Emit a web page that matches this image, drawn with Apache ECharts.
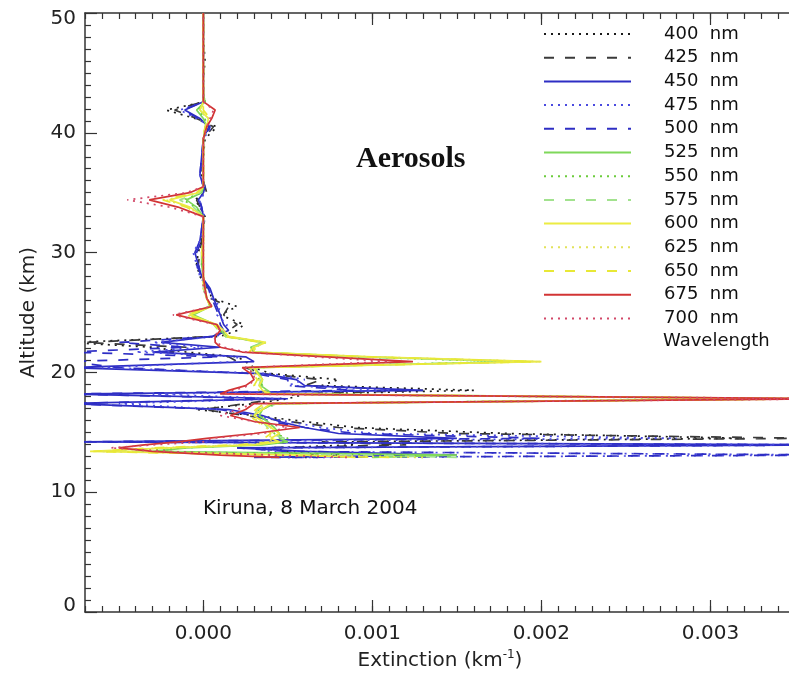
<!DOCTYPE html>
<html>
<head>
<meta charset="utf-8">
<script src="https://cdn.jsdelivr.net/npm/echarts@6/dist/echarts.min.js"></script>
<style>html,body{margin:0;padding:0;background:#fff;}#c{width:789px;height:679px;}</style>
</head>
<body>
<div id="c"></div>
<script>
// Altitude levels (km), shared by every profile
const altitudes = [12.9, 13.1, 13.4, 13.7, 13.95, 14.2, 14.5, 14.9, 15.4, 15.9, 16.4, 16.9, 17.4, 17.8, 18.2, 18.5, 18.9, 19.4, 19.9, 20.4, 20.9, 21.3, 21.7, 22.1, 22.5, 23.0, 23.5, 24.0, 24.8, 25.5, 26.2, 27.0, 28.0, 29.0, 30.0, 31.0, 32.0, 33.0, 33.8, 34.4, 35.0, 35.5, 36.5, 38.0, 39.5, 40.5, 41.2, 41.9, 42.6, 43.2, 44.5, 46.0, 48.0, 50.0];

// Extinction profiles, in units of 10^-3 km^-1
const ext400 = [0.6, 0.8, 0.5, 0.4, 0.9, 0.8, 3.2, 1.8, 0.9, 0.6, 0.3, -0.04, 0.3, 0.5, 0.6, 1.6, 0.7, 0.8, 0.4, 0.3, 0.25, 0.2, -0.1, -0.3, -0.8, 0.1, 0.2, 0.24, 0.1, 0.2, 0.05, 0.03, -0.02, -0.04, -0.03, -0.01, 0.0, 0.01, -0.02, -0.05, 0.01, 0.01, -0.01, 0.0, 0.01, 0.08, -0.05, -0.22, 0.01, 0.0, 0.0, 0.01, 0.0, 0.0];
const ext425 = [0.5, 0.7, 0.45, 0.35, 1.2, 0.7, 3.6, 1.5, 0.8, 0.5, 0.25, 0.0, 0.25, 0.45, 0.55, 1.3, 0.6, 0.7, 0.35, 0.25, 0.2, 0.15, -0.2, -0.1, -0.7, 0.05, 0.15, 0.2, 0.12, 0.15, 0.04, 0.02, -0.01, -0.03, -0.02, -0.01, 0.0, 0.0, -0.02, -0.04, 0.02, 0.01, -0.01, 0.0, 0.0, 0.06, -0.04, -0.17, 0.0, 0.0, 0.0, 0.0, 0.0, 0.0];
const ext450 = [0.3, 1.5, 0.6, 0.2, 3.8, -0.8, 1.5, 0.8, 0.6, 0.45, 0.35, 0.15, -0.8, 0.5, -0.8, 1.3, 0.6, 0.55, 0.35, -0.8, 0.3, 0.25, -0.3, 0.1, -0.25, 0.05, 0.15, 0.12, 0.1, 0.08, 0.06, 0.04, -0.01, -0.03, -0.05, -0.02, -0.01, 0.0, -0.01, -0.03, 0.0, 0.0, -0.02, -0.01, 0.0, 0.03, -0.02, -0.11, 0.0, 0.0, 0.0, 0.0, 0.0, 0.0];
const ext475 = [0.5, 3.8, 0.4, 0.3, 3.8, -0.6, 2.8, 1.0, 0.7, 0.5, 0.3, 0.1, -0.5, 0.45, -0.3, 1.1, 0.5, 0.6, 0.4, -0.6, 0.2, 0.2, -0.4, 0.0, -0.3, 0.08, 0.13, 0.14, 0.08, 0.1, 0.05, 0.03, -0.02, -0.04, -0.06, -0.02, 0.0, 0.01, -0.02, -0.02, 0.01, 0.0, -0.02, 0.0, 0.0, 0.05, -0.04, -0.14, 0.01, 0.0, 0.0, 0.0, 0.0, 0.0];
const ext500 = [0.4, 3.8, 0.5, 0.2, 3.8, -0.8, 2.0, 0.9, 0.6, 0.4, 0.3, 0.1, -0.8, 0.4, -0.8, 0.9, 0.5, 0.5, 0.3, -0.5, -0.8, 0.1, -0.8, -0.1, -0.5, 0.06, 0.12, 0.1, 0.09, 0.07, 0.05, 0.03, -0.01, -0.04, -0.04, -0.01, -0.01, 0.0, -0.01, -0.02, 0.0, 0.01, -0.02, -0.01, 0.0, 0.04, -0.03, -0.12, 0.0, 0.0, 0.0, 0.0, 0.0, 0.0];
const ext525 = [1.0, 1.5, -0.3, -0.1, 0.35, 0.5, 0.45, 0.45, 0.42, 0.38, 0.33, 0.35, 0.42, 3.5, 0.4, 0.38, 0.34, 0.35, 0.33, 0.3, 1.9, 0.95, 0.3, 0.28, 0.35, 0.14, 0.1, 0.07, -0.06, 0.04, 0.02, 0.01, 0.0, -0.01, -0.01, 0.0, 0.0, 0.0, -0.04, -0.1, -0.01, 0.0, 0.0, 0.0, 0.0, 0.02, 0.0, -0.04, 0.01, 0.0, 0.0, 0.0, 0.0, 0.0];
const ext550 = [1.3, 1.2, -0.4, -0.15, 0.3, 0.48, 0.5, 0.42, 0.4, 0.36, 0.3, 0.33, 0.45, 3.3, 0.38, 0.36, 0.35, 0.33, 0.32, 0.28, 1.8, 0.9, 0.28, 0.3, 0.37, 0.13, 0.1, 0.06, -0.07, 0.04, 0.02, 0.0, 0.0, -0.01, 0.0, 0.0, 0.0, 0.0, -0.05, -0.12, -0.01, 0.0, 0.0, 0.0, 0.0, 0.02, 0.01, -0.03, 0.0, 0.0, 0.0, 0.0, 0.0, 0.0];
const ext575 = [1.5, 1.0, -0.5, -0.2, 0.28, 0.45, 0.48, 0.4, 0.38, 0.35, 0.3, 0.32, 0.44, 3.4, 0.36, 0.37, 0.33, 0.34, 0.3, 0.27, 1.85, 0.9, 0.27, 0.29, 0.36, 0.12, 0.09, 0.06, -0.08, 0.03, 0.02, 0.0, 0.0, 0.0, 0.0, 0.0, 0.0, 0.0, -0.06, -0.14, -0.02, 0.0, 0.0, 0.0, 0.0, 0.01, 0.02, -0.02, 0.0, 0.0, 0.0, 0.0, 0.0, 0.0];
const ext600 = [0.9, 0.6, -0.67, -0.2, 0.3, 0.45, 0.4, 0.45, 0.4, 0.35, 0.3, 0.35, 0.4, 3.6, 0.4, 0.35, 0.33, 0.35, 0.32, 0.3, 2.0, 1.0, 0.3, 0.3, 0.37, 0.15, 0.12, 0.08, -0.08, 0.05, 0.02, 0.01, 0.0, 0.0, -0.01, 0.0, 0.0, 0.0, -0.08, -0.2, -0.03, 0.0, 0.0, 0.0, 0.0, 0.02, 0.03, -0.02, 0.0, 0.0, 0.0, 0.0, 0.0, 0.0];
const ext625 = [1.3, 0.5, -0.6, -0.25, 0.25, 0.42, 0.38, 0.42, 0.37, 0.33, 0.28, 0.33, 0.38, 3.5, 0.38, 0.33, 0.3, 0.33, 0.3, 0.28, 2.0, 1.0, 0.28, 0.32, 0.35, 0.13, 0.1, 0.07, -0.1, 0.05, 0.02, 0.0, 0.0, 0.0, 0.0, 0.0, 0.0, 0.0, -0.09, -0.22, -0.03, 0.0, 0.0, 0.0, 0.0, 0.01, 0.03, -0.01, 0.0, 0.0, 0.0, 0.0, 0.0, 0.0];
const ext650 = [1.1, 0.4, -0.65, -0.3, 0.2, 0.4, 0.36, 0.4, 0.36, 0.32, 0.27, 0.31, 0.36, 3.7, 0.36, 0.32, 0.3, 0.32, 0.29, 0.27, 1.95, 0.95, 0.27, 0.3, 0.34, 0.12, 0.1, 0.06, -0.1, 0.04, 0.02, 0.0, 0.0, 0.0, 0.0, 0.0, 0.0, 0.0, -0.1, -0.24, -0.04, 0.0, 0.0, 0.0, 0.0, 0.01, 0.04, 0.0, 0.0, 0.0, 0.0, 0.0, 0.0, 0.0];
const ext675 = [0.45, 0.1, -0.3, -0.5, -0.35, -0.15, 0.02, 0.3, 0.57, 0.3, 0.16, 0.25, 0.3, 3.8, 0.1, 0.15, 0.25, 0.3, 0.28, 0.23, 1.24, 0.73, 0.23, 0.1, 0.07, 0.07, 0.1, 0.08, -0.16, 0.05, 0.02, 0.01, 0.0, 0.0, 0.0, 0.0, 0.0, 0.0, -0.15, -0.32, -0.08, 0.0, 0.0, 0.0, 0.0, 0.02, 0.05, 0.07, 0.0, 0.0, 0.0, 0.0, 0.0, 0.0];
const ext700 = [0.85, 0.4, -0.2, -0.55, -0.3, 0.0, 0.05, 0.35, 0.5, 0.3, 0.1, 0.2, 0.3, 3.8, 0.12, 0.18, 0.27, 0.3, 0.3, 0.25, 1.1, 0.65, 0.25, 0.12, 0.08, 0.06, 0.1, 0.07, -0.18, 0.05, 0.02, 0.0, 0.0, 0.0, 0.0, 0.0, 0.0, 0.0, -0.2, -0.45, -0.1, 0.0, 0.0, 0.0, 0.0, 0.02, 0.04, 0.06, 0.0, 0.0, 0.0, 0.0, 0.0, 0.0];

const seriesNames = ['400  nm', '425  nm', '450  nm', '475  nm', '500  nm', '525  nm', '550  nm', '575  nm', '600  nm', '625  nm', '650  nm', '675  nm', '700  nm'];
const profiles = [ext400, ext425, ext450, ext475, ext500, ext525, ext550, ext575, ext600, ext625, ext650, ext675, ext700];
const xMajorTicks = [0, 1, 2, 3];

const DOT = [2, 5], DASH = [10, 11];
const styles = [
  {color: '#1a1a1a', type: DOT},
  {color: '#3a3a3a', type: DASH},
  {color: '#2e2ec4', type: 'solid'},
  {color: '#4a4ae0', type: DOT},
  {color: '#2e2ec4', type: DASH},
  {color: '#7fd85a', type: 'solid'},
  {color: '#6ccc3c', type: DOT},
  {color: '#a2e28e', type: DASH},
  {color: '#ecec42', type: 'solid'},
  {color: '#e2e25a', type: DOT},
  {color: '#e8e836', type: DASH},
  {color: '#d23434', type: 'solid'},
  {color: '#d24868', type: DOT}
];

const FONT = 'DejaVu Sans';
const AX = '#333';

const series = profiles.map((p, i) => ({
  name: seriesNames[i],
  type: 'line',
  xAxisIndex: 0,
  yAxisIndex: 0,
  data: p.map((v, k) => [v, altitudes[k]]),
  symbol: 'none',
  showSymbol: false,
  lineStyle: {color: styles[i].color, type: styles[i].type, width: 1.7},
  itemStyle: {color: styles[i].color},
  emphasis: {disabled: true},
  animation: false
}));

function xLab(v) {
  return Math.abs(v - Math.round(v)) < 1e-6 ? (Math.round(v) * 0.001).toFixed(3) : '';
}
function yLab(v) {
  if (v === 50) return '{top|50}';
  if (v === 0) return '{bot|0}';
  return String(v);
}

const xBase = {type: 'value', min: -0.7, max: 3.5, splitLine: {show: false}};
const chart = echarts.init(document.getElementById('c'), null, {renderer: 'canvas'});
chart.setOption({
  animation: false,
  backgroundColor: '#fff',
  textStyle: {fontFamily: FONT},
  grid: {left: 85, right: -6, top: 13, bottom: 67, containLabel: false, outerBoundsMode: 'none'},
  xAxis: [
    Object.assign({}, xBase, {
      position: 'bottom', interval: 0.1,
      axisLine: {show: true, onZero: false, lineStyle: {color: AX, width: 1.5}},
      axisTick: {show: true, inside: true, length: 6, lineStyle: {color: AX, width: 1.2}},
      axisLabel: {show: true, formatter: xLab, fontSize: 20, color: '#222', margin: 12, fontFamily: FONT},
      name: 'Extinction (km{sup|-1})', nameLocation: 'middle', nameGap: 37,
      nameTextStyle: {fontSize: 20, color: '#222', fontFamily: FONT,
        rich: {sup: {fontSize: 12, color: '#222', fontFamily: FONT, padding: [0, 0, 11, 0]}}}
    }),
    Object.assign({}, xBase, {
      position: 'bottom',
      axisLine: {show: false, onZero: false},
      axisTick: {show: true, inside: true, length: 12, customValues: xMajorTicks, lineStyle: {color: AX, width: 1.2}},
      axisLabel: {show: false}
    }),
    Object.assign({}, xBase, {
      position: 'top', interval: 0.1,
      axisLine: {show: true, onZero: false, lineStyle: {color: AX, width: 1.5}},
      axisTick: {show: true, inside: true, length: 6, lineStyle: {color: AX, width: 1.2}},
      axisLabel: {show: false}
    }),
    Object.assign({}, xBase, {
      position: 'top',
      axisLine: {show: false, onZero: false},
      axisTick: {show: true, inside: true, length: 12, customValues: xMajorTicks, lineStyle: {color: AX, width: 1.2}},
      axisLabel: {show: false}
    })
  ],
  yAxis: [{
    type: 'value', min: 0, max: 50, interval: 10, position: 'left',
    axisLine: {show: true, onZero: false, lineStyle: {color: AX, width: 1.5}},
    axisTick: {show: true, inside: true, length: 12, lineStyle: {color: AX, width: 1.2}},
    minorTick: {show: true, splitNumber: 10, length: 6, lineStyle: {color: AX, width: 1.2}},
    splitLine: {show: false},
    axisLabel: {fontSize: 20, color: '#222', margin: 9, fontFamily: FONT, formatter: yLab,
      rich: {
        top: {fontSize: 20, color: '#222', fontFamily: FONT, padding: [12, 0, 0, 0]},
        bot: {fontSize: 20, color: '#222', fontFamily: FONT, padding: [0, 0, 12, 0]}
      }},
    name: 'Altitude (km)', nameLocation: 'middle', nameGap: 46,
    nameTextStyle: {fontSize: 20, color: '#222', fontFamily: FONT}
  }],
  legend: {
    orient: 'vertical', left: 543, top: 25, padding: 0,
    itemWidth: 87, itemHeight: 14, itemGap: 5.7,
    data: seriesNames,
    selectedMode: false,
    itemStyle: {opacity: 0},
    textStyle: {fontSize: 18, color: '#111', fontFamily: FONT, lineHeight: 18, padding: [0, 0, 0, 28]}
  },
  graphic: [
    {type: 'text', left: 663, top: 332, style: {text: 'Wavelength', fontSize: 18, fill: '#111', fontFamily: FONT}},
    {type: 'text', left: 356, top: 144, style: {text: 'Aerosols', fontSize: 30, fontWeight: 'bold', fill: '#111', fontFamily: 'Liberation Serif'}},
    {type: 'text', left: 203, top: 499, style: {text: 'Kiruna, 8 March 2004', fontSize: 20, fill: '#111', fontFamily: FONT}}
  ],
  series: series
});
</script>
</body>
</html>
